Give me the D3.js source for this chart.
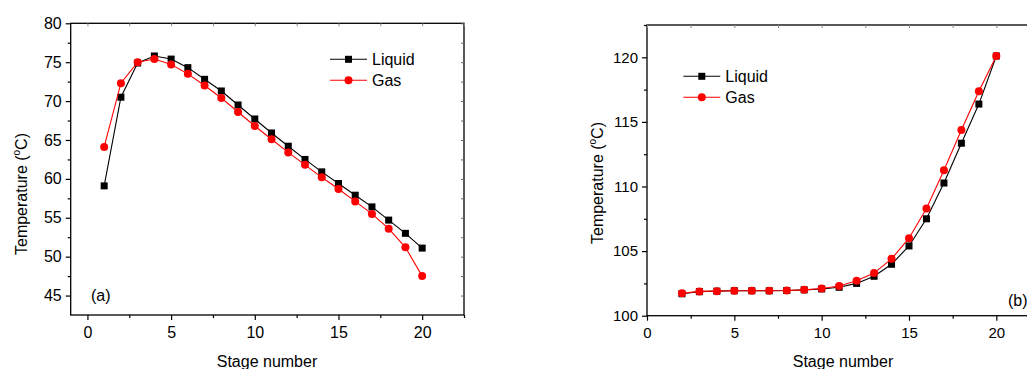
<!DOCTYPE html>
<html><head><meta charset="utf-8">
<script src="https://cdn.jsdelivr.net/npm/d3@7"></script>
<style>
body{margin:0;background:#fff;}
svg{display:block;font-family:"Liberation Sans",Arial,sans-serif;}
</style></head><body>
<svg id="c" width="1027" height="369"></svg>
<script>
const stagesA = d3.range(1, 21);
const liquidA = [59.1,70.5,74.9,75.8,75.4,74.3,72.8,71.3,69.5,67.7,65.9,64.2,62.5,60.9,59.4,57.9,56.4,54.7,53.0,51.1];
const gasA    = [64.1,72.3,75.0,75.4,74.7,73.5,72.0,70.4,68.6,66.8,65.1,63.4,61.8,60.2,58.7,57.1,55.5,53.6,51.2,47.5];
const stagesB = d3.range(2, 21);
const liquidB = [101.7,101.86,101.9,101.93,101.93,101.93,101.95,102.0,102.07,102.2,102.5,103.05,103.98,105.4,107.5,110.27,113.35,116.38,120.1];
const gasB    = [101.73,101.88,101.9,101.93,101.93,101.93,101.95,102.0,102.1,102.3,102.7,103.3,104.4,106.0,108.3,111.25,114.37,117.37,120.1];
const xTicks = [0,5,10,15,20];
const yTicksA = [45,50,55,60,65,70,75,80];
const yTicksB = [100,105,110,115,120];
const seriesNames = ["Liquid","Gas"];
const colors = ["#000000","#ff0000"];

const svg = d3.select("#c");

function panel(cfg){
  const x = d3.scaleLinear().domain(cfg.xDom).range([cfg.left, cfg.right]);
  const y = d3.scaleLinear().domain(cfg.yDom).range([cfg.bottom, cfg.top]);
  const g = svg.append("g");
  g.append("rect").attr("x",cfg.left).attr("y",cfg.top)
   .attr("width",cfg.right-cfg.left).attr("height",cfg.bottom-cfg.top)
   .attr("fill","none").attr("stroke","#000").attr("stroke-width",1.3);
  const xMinor = d3.range(Math.ceil(cfg.xDom[0]/2.5)*2.5, cfg.xDom[1]+0.01, 2.5).filter(v=>v%5!==0);
  const bx = g.append("g").attr("transform",`translate(0,${cfg.bottom})`)
    .call(d3.axisBottom(x).tickValues(xTicks).tickSize(5).tickPadding(7).tickFormat(d3.format("d")));
  bx.select(".domain").remove();
  bx.selectAll("text").attr("font-size",cfg.tickFs).attr("font-family","Liberation Sans, Arial, sans-serif");
  bx.selectAll("line").attr("stroke-width",1.2);
  g.append("g").attr("transform",`translate(0,${cfg.bottom})`)
    .call(d3.axisBottom(x).tickValues(xMinor).tickSize(3).tickFormat(""))
    .call(a=>a.select(".domain").remove()).selectAll("line").attr("stroke-width",1.2);
  const yMinor = d3.range(cfg.yDom[0], cfg.yDom[1]+0.01, 2.5).filter(v=>v%5!==0 && v>cfg.yDom[0]);
  const ly = g.append("g").attr("transform",`translate(${cfg.left},0)`)
    .call(d3.axisLeft(y).tickValues(cfg.yTicks).tickSize(5).tickPadding(4).tickFormat(d3.format("d")));
  ly.select(".domain").remove();
  ly.selectAll("text").attr("font-size",cfg.tickFs).attr("font-family","Liberation Sans, Arial, sans-serif");
  ly.selectAll("line").attr("stroke-width",1.2);
  g.append("g").attr("transform",`translate(${cfg.left},0)`)
    .call(d3.axisLeft(y).tickValues(yMinor).tickSize(3).tickFormat(""))
    .call(a=>a.select(".domain").remove()).selectAll("line").attr("stroke-width",1.2);
  g.append("g").attr("transform",`translate(0,${cfg.top})`)
    .call(d3.axisTop(x).tickValues(xTicks.concat(xMinor)).tickSize(-3).tickFormat(""))
    .call(a=>a.select(".domain").remove()).selectAll("line").attr("stroke","#888").attr("stroke-width",1);
  g.append("g").attr("transform",`translate(${cfg.right},0)`)
    .call(d3.axisRight(y).tickValues(cfg.yTicks.concat(yMinor)).tickSize(-3).tickFormat(""))
    .call(a=>a.select(".domain").remove()).selectAll("line").attr("stroke","#666").attr("stroke-width",1);

  const data = [cfg.liq, cfg.gas];
  data.forEach((vals,i)=>{
    const pts = cfg.stages.map((s,j)=>[s,vals[j]]);
    g.append("path").datum(pts).attr("fill","none").attr("stroke",colors[i]).attr("stroke-width",1.1)
     .attr("d", d3.line().x(d=>x(d[0])).y(d=>y(d[1])));
    if(i===0){
      g.selectAll(null).data(pts).enter().append("rect")
       .attr("x",d=>x(d[0])-3.5).attr("y",d=>y(d[1])-3.5).attr("width",7).attr("height",7).attr("fill",colors[i]);
    } else {
      g.selectAll(null).data(pts).enter().append("circle")
       .attr("cx",d=>x(d[0])).attr("cy",d=>y(d[1])).attr("r",4).attr("fill",colors[i]);
    }
  });
  seriesNames.forEach((nm,i)=>{
    const ly0 = cfg.legY + i*21;
    g.append("line").attr("x1",cfg.legX).attr("x2",cfg.legX+37).attr("y1",ly0).attr("y2",ly0)
     .attr("stroke",colors[i]).attr("stroke-width",1.1);
    if(i===0) g.append("rect").attr("x",cfg.legX+18.5-3.5).attr("y",ly0-3.5).attr("width",7).attr("height",7).attr("fill",colors[i]);
    else g.append("circle").attr("cx",cfg.legX+18.5).attr("cy",ly0).attr("r",4).attr("fill",colors[i]);
    g.append("text").attr("x",cfg.legX+42).attr("y",ly0+5.5).attr("font-size",16).text(nm);
  });
  g.append("text").attr("x",cfg.lab[0]).attr("y",cfg.lab[1]).attr("font-size",16).text(cfg.labText);
  g.append("text").attr("x",cfg.xtPos[0]).attr("y",cfg.xtPos[1]).attr("text-anchor","middle")
   .attr("font-size",16).text("Stage number");
  const yt = g.append("text").attr("transform",`translate(${cfg.ytPos[0]},${cfg.ytPos[1]}) rotate(-90)`)
   .attr("text-anchor","middle").attr("font-size",16);
  yt.append("tspan").text("Temperature (");
  yt.append("tspan").attr("font-size",10).attr("dy",-7).text("o");
  yt.append("tspan").attr("dy",7).text("C)");
}

panel({left:70.7,right:464,top:23.3,bottom:315,xDom:[-1,22.5],yDom:[42.5,80],yTicks:yTicksA,tickFs:16,
  stages:stagesA,liq:liquidA,gas:gasA,legX:330,legY:59.3,lab:[91,301],labText:"(a)",
  xtPos:[267,367],ytPos:[27,194]});
panel({left:647,right:1040,top:25,bottom:315.7,xDom:[0,22.5],yDom:[100,122.5],yTicks:yTicksB,tickFs:15,
  stages:stagesB,liq:liquidB,gas:gasB,legX:683.3,legY:76.3,lab:[1008,306],labText:"(b)",
  xtPos:[843,367],ytPos:[603,183]});
</script>
</body></html>
